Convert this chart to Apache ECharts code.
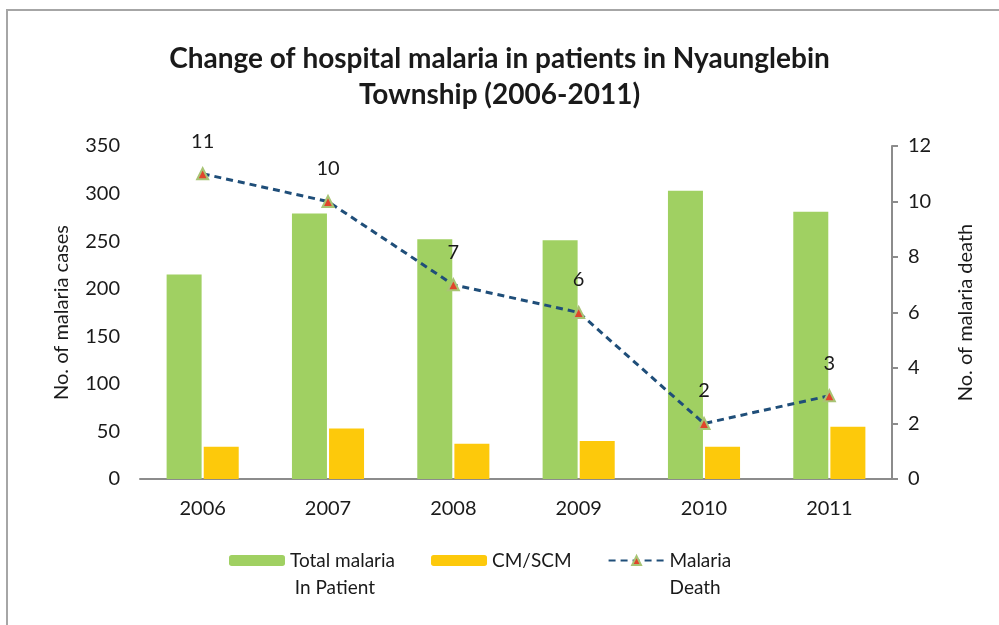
<!DOCTYPE html>
<html>
<head>
<meta charset="utf-8">
<script src="https://cdn.jsdelivr.net/npm/echarts@6/dist/echarts.min.js"></script>
<style>
  html, body { margin: 0; padding: 0; background: #fff; }
  #chart { width: 999px; height: 625px; }
</style>
</head>
<body>
<div id="chart"></div>
<script>
// chart data
const years = ["2006", "2007", "2008", "2009", "2010", "2011"];
const totalInPatient = [215, 279, 252, 251, 303, 281];
const cmScm = [34, 53, 37, 40, 34, 55];
const deaths = [11, 10, 7, 6, 2, 3];

// legend texts wrap onto a second line, first line level with the icon
const legendText = {
  "Total malaria In Patient": "\nTotal malaria\n In Patient",
  "CM/SCM": "CM/SCM",
  "Malaria Death": "\nMalaria\nDeath",
};

const font = "Lato";
const textColor = "#1a1a1a";
const axisGrey = "#8c8c8c";

const chart = echarts.init(document.getElementById("chart"));

chart.setOption({
  backgroundColor: "#fff",
  animation: false,
  title: {
    text: "Change of hospital malaria in patients in Nyaunglebin\nTownship (2006-2011)",
    left: "center",
    top: 36,
    textStyle: {
      fontFamily: font,
      fontSize: 28,
      fontWeight: "bold",
      color: textColor,
      lineHeight: 36,
    },
  },
  // outer frame (only top and left edges are visible)
  graphic: [
    { type: "line", shape: { x1: 6, y1: 10, x2: 999, y2: 10 }, style: { stroke: "#a6a6a6", lineWidth: 2 } },
    { type: "line", shape: { x1: 7, y1: 10, x2: 7, y2: 625 }, style: { stroke: "#a6a6a6", lineWidth: 2 } },
  ],
  grid: { left: 140, right: 107, top: 146, bottom: 146 },
  legend: {
    left: 224,
    top: 515,
    itemWidth: 56,
    itemHeight: 11,
    itemGap: 36,
    formatter: (name) => legendText[name],
    textStyle: {
      fontFamily: font,
      fontSize: 19,
      color: textColor,
      lineHeight: 27,
    },
    data: ["Total malaria In Patient", "CM/SCM", "Malaria Death"],
  },
  xAxis: {
    type: "category",
    data: years,
    axisLine: { lineStyle: { color: axisGrey, width: 2 } },
    axisTick: { show: false },
    axisLabel: { fontFamily: font, fontSize: 20, color: textColor, margin: 20 },
  },
  yAxis: [
    {
      type: "value",
      min: 0,
      max: 350,
      interval: 50,
      name: "No. of malaria cases",
      nameLocation: "middle",
      nameGap: 68,
      nameTextStyle: { fontFamily: font, fontSize: 20, color: textColor },
      axisLine: { show: false },
      axisTick: { show: false },
      splitLine: { show: false },
      axisLabel: { fontFamily: font, fontSize: 20, color: textColor, margin: 20 },
    },
    {
      type: "value",
      min: 0,
      max: 12,
      interval: 2,
      name: "No. of malaria death",
      nameLocation: "middle",
      nameGap: 64,
      nameTextStyle: { fontFamily: font, fontSize: 20, color: textColor },
      axisLine: { show: true, lineStyle: { color: axisGrey, width: 2 } },
      axisTick: { show: true, length: 6, lineStyle: { color: axisGrey, width: 2 } },
      splitLine: { show: false },
      axisLabel: { fontFamily: font, fontSize: 20, color: textColor, margin: 16 },
    },
  ],
  series: [
    {
      name: "Total malaria In Patient",
      type: "bar",
      data: totalInPatient,
      barWidth: 35,
      barGap: "6%",
      itemStyle: { color: "#a0d062" },
    },
    {
      name: "CM/SCM",
      type: "bar",
      data: cmScm,
      barWidth: 35,
      itemStyle: { color: "#fdc90b" },
    },
    {
      name: "Malaria Death",
      type: "line",
      yAxisIndex: 1,
      data: deaths,
      symbol: "triangle",
      symbolSize: 11,
      lineStyle: { color: "#1f4e79", width: 3, type: [7, 5] },
      itemStyle: { color: "#e0452c", borderColor: "#a8c474", borderWidth: 2 },
      label: {
        show: true,
        position: "top",
        distance: 16,
        fontFamily: font,
        fontSize: 20,
        color: textColor,
      },
    },
  ],
});
</script>
</body>
</html>
